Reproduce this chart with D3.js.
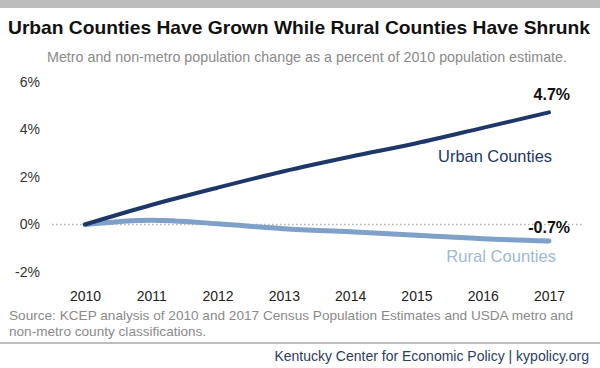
<!DOCTYPE html>
<html><head><meta charset="utf-8">
<script src="https://cdn.jsdelivr.net/npm/d3@7"></script>
<style>body{margin:0;background:#fff}svg{display:block;font-family:"Liberation Sans",Arial,sans-serif}</style>
</head><body><svg id="c" width="600" height="368"></svg>
<script>
const years = [2010, 2011, 2012, 2013, 2014, 2015, 2016, 2017];
const urban = [0, 0.82, 1.55, 2.24, 2.85, 3.42, 4.07, 4.72];
const rural = [0, 0.18, 0.03, -0.18, -0.31, -0.45, -0.6, -0.69];
const yTicks = [-2, 0, 2, 4, 6];

const svg = d3.select("#c");
const x = d3.scalePoint().domain(years).range([85, 549]);
const y = d3.scaleLinear().domain([-2, 6]).range([272, 82]);

svg.append("rect").attr("x",0).attr("y",0).attr("width",600).attr("height",8).attr("fill","#bdbdbd");
svg.append("text").attr("x",8).attr("y",34)
  .attr("font-size",19).attr("font-weight","bold").attr("fill","#111")
  .attr("textLength",582).attr("lengthAdjust","spacingAndGlyphs")
  .text("Urban Counties Have Grown While Rural Counties Have Shrunk");
svg.append("text").attr("x",47).attr("y",62)
  .attr("font-size",14.3).attr("fill","#8a8a8a")
  .attr("textLength",520).attr("lengthAdjust","spacingAndGlyphs")
  .text("Metro and non-metro population change as a percent of 2010 population estimate.");

// y axis
const ya = svg.append("g").attr("transform","translate(40,0)")
  .call(d3.axisLeft(y).tickValues(yTicks).tickFormat(d=>d+"%").tickSize(0).tickPadding(0));
ya.select(".domain").remove();
ya.selectAll("text").attr("font-size",14).attr("fill","#333").attr("font-family","Liberation Sans, Arial, sans-serif");

// x axis
const xa = svg.append("g").attr("transform","translate(0,291)")
  .call(d3.axisBottom(x).tickSize(0).tickPadding(0));
xa.select(".domain").remove();
xa.selectAll("text").attr("font-size",14).attr("fill","#222").attr("font-family","Liberation Sans, Arial, sans-serif");

// zero line
svg.append("line").attr("x1",52).attr("x2",583).attr("y1",y(0)).attr("y2",y(0))
  .attr("stroke","#b5b5b5").attr("stroke-width",1.3).attr("stroke-dasharray","1.5,2.5");

const line = d3.line().x((d,i)=>x(years[i])).y(d=>y(d)).curve(d3.curveMonotoneX);
svg.append("path").attr("d",line(rural)).attr("fill","none").attr("stroke","#7ea0c9").attr("stroke-width",5).attr("stroke-linecap","round");
svg.append("path").attr("d",line(urban)).attr("fill","none").attr("stroke","#1d3768").attr("stroke-width",4).attr("stroke-linecap","round");

svg.append("text").attr("x",570).attr("y",100).attr("text-anchor","end").attr("font-size",16).attr("font-weight","bold").attr("fill","#111").text("4.7%");
svg.append("text").attr("x",570).attr("y",233).attr("text-anchor","end").attr("font-size",16).attr("font-weight","bold").attr("fill","#111").text("-0.7%");
svg.append("text").attr("x",552).attr("y",162).attr("text-anchor","end").attr("font-size",16.4).attr("fill","#1d3768").text("Urban Counties");
svg.append("text").attr("x",556).attr("y",262).attr("text-anchor","end").attr("font-size",16.6).attr("fill","#9fb8d6").text("Rural Counties");

svg.append("text").attr("x",9).attr("y",320).attr("font-size",13.6).attr("fill","#8a8a8a")
  .attr("textLength",564).attr("lengthAdjust","spacingAndGlyphs")
  .text("Source: KCEP analysis of 2010 and 2017 Census Population Estimates and USDA metro and");
svg.append("text").attr("x",9).attr("y",336).attr("font-size",13.6).attr("fill","#8a8a8a")
  .text("non-metro county classifications.");
svg.append("line").attr("x1",0).attr("x2",600).attr("y1",343).attr("y2",343).attr("stroke","#aaa").attr("stroke-width",1.5);
svg.append("text").attr("x",589).attr("y",361).attr("text-anchor","end").attr("font-size",14).attr("fill","#2b3d63")
  .text("Kentucky Center for Economic Policy | kypolicy.org");
</script></body></html>
